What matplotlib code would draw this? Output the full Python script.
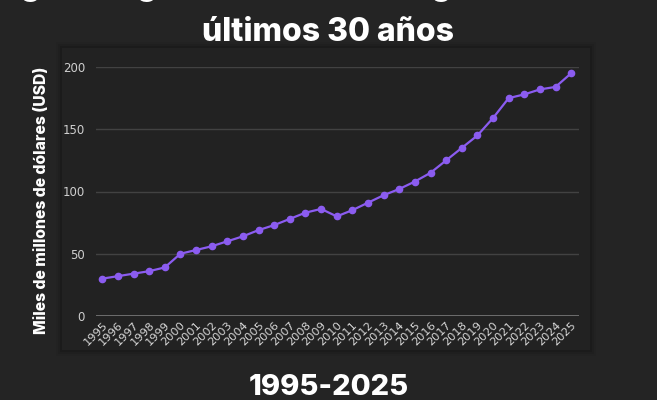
import matplotlib
matplotlib.use("Agg")
import matplotlib.pyplot as plt
from matplotlib.patches import Rectangle

# datos (miles de millones de USD)
years = list(range(1995, 2026))
values = [30, 32, 34, 36, 39, 50, 53, 56, 60, 64, 69, 73, 78, 83, 86,
          80, 85, 91, 97, 102, 108, 115, 125, 135, 145, 159, 175, 178,
          182, 184, 195]
yticks = [0, 50, 100, 150, 200]

bg = '#242424'
panel = '#222222'
purple = '#8b5cf0'

fig = plt.figure(figsize=(6.57, 4.0), dpi=100)
fig.set_facecolor(bg)

# sombra + panel
for i, a in enumerate([0.05, 0.08, 0.12]):
    d = 6 - 2 * i
    fig.patches.append(Rectangle((62 / 657 - d / 657, 1 - (350 + d) / 400),
                                 (528 + 2 * d) / 657, (302 + 2 * d) / 400,
                                 transform=fig.transFigure, facecolor='black',
                                 alpha=a, edgecolor='none', zorder=0))
fig.patches.append(Rectangle((62 / 657, 1 - 350 / 400), 528 / 657, 302 / 400,
                             transform=fig.transFigure, facecolor=panel,
                             edgecolor='none', zorder=1))

ax = fig.add_axes([96 / 657, 1 - 316 / 400, 483 / 657, 249 / 400])
ax.set_zorder(5)
ax.set_facecolor('none')
ax.plot(years, values, color=purple, lw=1.6, marker='o', ms=4.5,
        clip_on=False, zorder=3)

ax.set_xlim(1994.6, 2025.5)
ax.set_ylim(0, 200)
ax.set_yticks(yticks)
ax.set_xticks(years)
ax.set_xticklabels([str(y) for y in years], rotation=45, ha='right',
                   rotation_mode='anchor', fontsize=8.2, color='#d8d8d8')
ax.tick_params(axis='y', labelsize=8.5, labelcolor='#cfcfcf', length=0, pad=8)
ax.tick_params(axis='x', length=0, pad=3)
for t in yticks[1:]:
    ax.axhline(t, color='#424242', lw=1.0, zorder=1)
ax.axhline(0, color='#7a7a7a', lw=1.2, zorder=2)
for s in ax.spines.values():
    s.set_visible(False)

fig.text(42 / 657, 1 - 200 / 400, 'Miles de millones de dólares (USD)',
         rotation=90, ha='center', va='center', color='white',
         fontsize=11.3, fontweight='heavy', family='Inter')

# titulo (primera linea cortada por arriba)
fig.text(0.5, 1.012, 'Ingresos globales de la energía solar en los',
         ha='center', va='baseline', color='white', fontsize=23,
         fontweight='heavy', family='Inter')
fig.text(0.5, 1 - 41 / 400, 'últimos 30 años', ha='center', va='baseline',
         color='white', fontsize=23, fontweight='heavy', family='Inter')
fig.text(0.5, 1 - 395 / 400, '1995-2025', ha='center', va='baseline',
         color='white', fontsize=21, fontweight='heavy', family='Inter')

fig.savefig('out.png', dpi=100, facecolor=fig.get_facecolor())
